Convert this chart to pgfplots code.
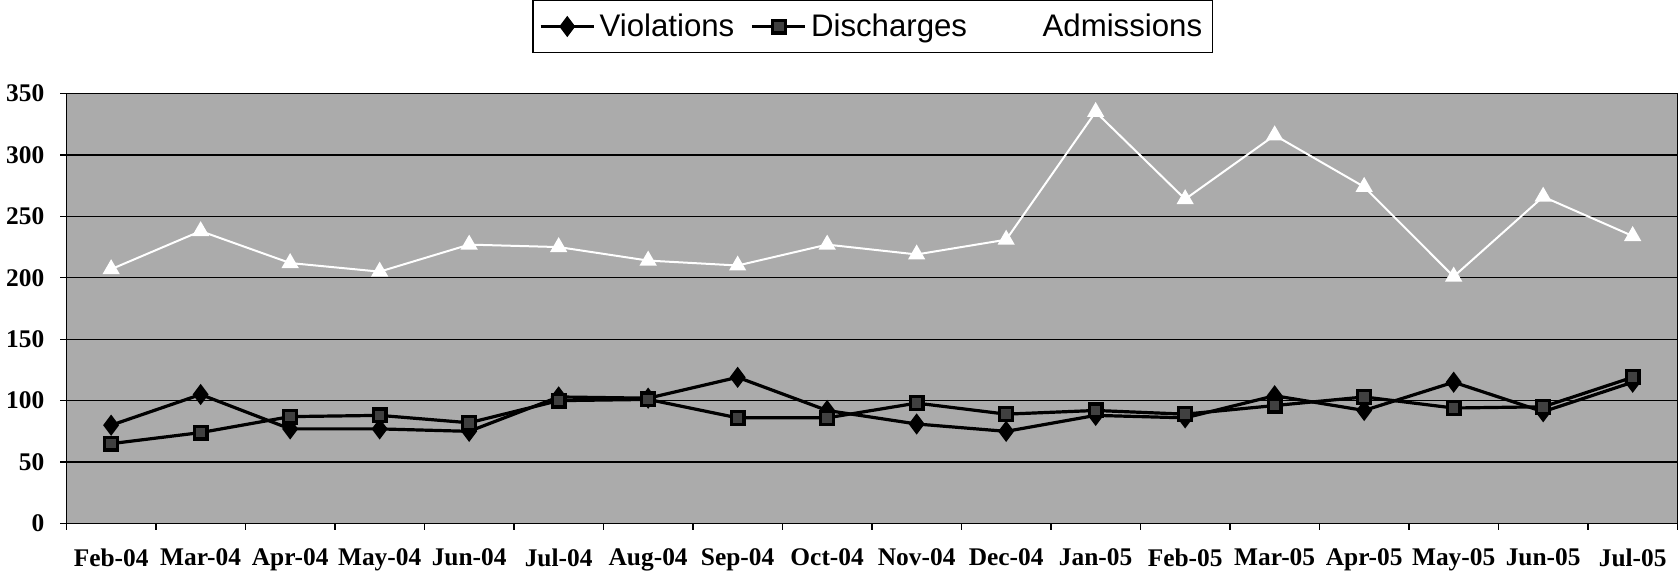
\documentclass[border=0pt]{standalone}
\usepackage{fontspec}
\setmainfont{Liberation Serif}
\newfontfamily\legfont{Liberation Sans}
\usepackage{pgfplots}
\pgfplotsset{compat=1.18}
\definecolor{bg}{gray}{0.67}
\begin{document}
\begin{tikzpicture}
\path[use as bounding box] (0,0) rectangle (839.5pt,286pt);
\begin{axis}[
  at={(33.2pt,24.25pt)}, anchor=south west,
  scale only axis, width=805.5pt, height=215pt,
  xmin=-0.5, xmax=17.5, ymin=0, ymax=350,
  xtick={0,...,17},
  xticklabels={Feb-04,Mar-04,Apr-04,May-04,Jun-04,Jul-04,Aug-04,Sep-04,Oct-04,Nov-04,Dec-04,Jan-05,Feb-05,Mar-05,Apr-05,May-05,Jun-05,Jul-05},
  minor xtick={-0.5,0.5,...,17.5},
  ytick={0,50,...,350},
  ymajorgrids, grid style={black, line width=0.6pt},
  major x tick style={draw=none},
  tick align=outside, tick pos=left,
  major tick length=3pt, minor tick length=3.2pt,
  tick style={black, line width=0.6pt},
  axis background/.style={fill=bg},
  axis line style={black, line width=0.6pt},
  /pgf/number format/assume math mode=true,
  ticklabel style={font=\bfseries\fontsize{12.7}{14}\selectfont},
  xticklabel style={yshift=-6pt},
  yticklabel style={xshift=-4.5pt},
  legend columns=3,
  legend image code/.code={\draw[mark repeat=2,mark phase=2,#1] plot coordinates {(0cm,0cm) (0.47cm,0cm) (0.94cm,0cm)};},
  legend style={at={(axis description cs:0.5004,1.1558)}, anchor=center, draw=black, line width=0.6pt,
    font=\legfont\fontsize{15.6}{18}\selectfont, inner xsep=3pt, inner ysep=4.5pt,
    /tikz/every even column/.append style={column sep=6pt}},
]
\addplot[black, line width=1.6pt, mark=diamond*, mark size=4pt, mark options={fill=black, solid}]
 coordinates {(0,80)(1,105)(2,77)(3,77)(4,75)(5,103)(6,102)(7,119)(8,92)(9,81)(10,75)(11,88)(12,86)(13,104)(14,92)(15,115)(16,91)(17,115)};
\addlegendentry{Violations}
\addplot[black, line width=1.6pt, mark=square*, mark size=3.2pt, mark options={fill=black!75, draw=black, solid}]
 coordinates {(0,65)(1,74)(2,87)(3,88)(4,82)(5,100)(6,101)(7,86)(8,86)(9,98)(10,89)(11,92)(12,89)(13,96)(14,103)(15,94)(16,95)(17,119)};
\addlegendentry{Discharges}
\addplot[white, line width=1pt, mark=triangle*, mark size=4pt, mark options={fill=white, solid}]
 coordinates {(0,207)(1,238)(2,212)(3,205)(4,227)(5,225)(6,214)(7,210)(8,227)(9,219)(10,231)(11,335)(12,264)(13,316)(14,274)(15,201)(16,266)(17,234)};
\addlegendentry{Admissions}
\end{axis}
\end{tikzpicture}
\end{document}
